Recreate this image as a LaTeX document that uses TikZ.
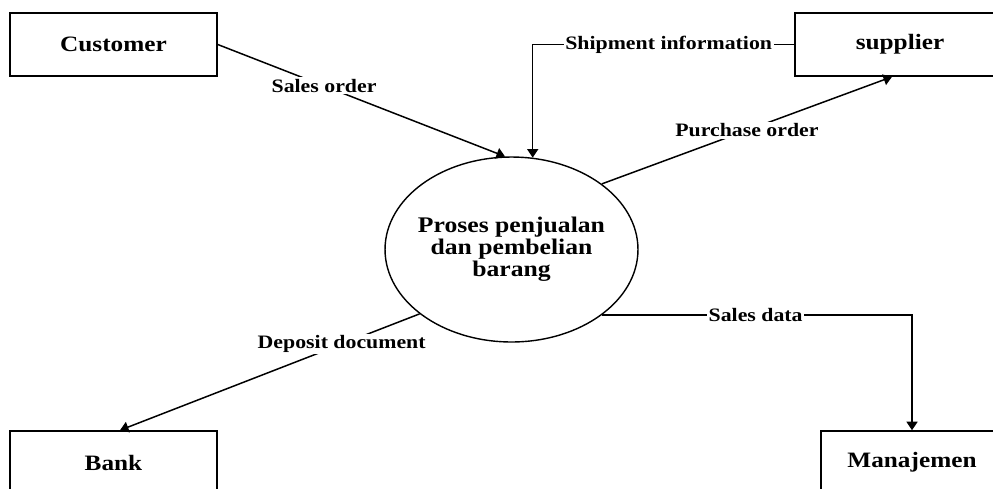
\documentclass[tikz,border=0pt]{standalone}
\usepackage{fontspec}
\setmainfont{Liberation Serif}[FakeStretch=1.15]
\usetikzlibrary{positioning, arrows.meta, shapes.geometric}

\tikzset{
  entity/.style={draw, line width=0.9pt, minimum height=1.26cm,
                 font=\fontsize{12.5}{14}\selectfont\bfseries},
  process/.style={draw, ellipse, line width=0.8pt, minimum width=5.06cm,
                  minimum height=3.7cm, inner xsep=-2.5pt, inner ysep=0pt,
                  align=center, font=\fontsize{12.7}{12.6}\selectfont\bfseries},
  flow/.style={line width=0.85pt, -{Triangle[length=0.17cm, width=0.22cm]}},
  flowlabel/.style={fill=white, inner sep=1pt,
                    font=\fontsize{10.8}{12}\selectfont\bfseries}
}

\begin{document}
\begin{tikzpicture}[x=0.02cm, y=-0.02cm]
  \useasboundingbox (0,0) rectangle (993,488);
  \clip (0,0) rectangle (993,488);

  % external entities
  \node[entity, minimum width=4.14cm] (customer) at (113.5,44.5) {Customer};
  \node[entity, minimum width=4.2cm] (supplier) at (900,44.5) {supplier};
  \node[entity, minimum width=4.14cm] (bank) at (113.5,462.5) {Bank};
  \node[entity, minimum width=3.64cm] (manajemen) at (912,462.5) {Manajemen};

  % process
  \node[process] (proses) at (511.5,249.5) {Proses penjualan\\dan pembelian\\barang};

  % data flows
  \draw[flow] (customer.east) -- (proses.94)
    node[flowlabel, pos=0.37] {Sales order};
  \draw[flow] (supplier.west) -| (proses.77)
    node[flowlabel, pos=0.24] {Shipment information};
  \draw[flow] (proses.36) -- ([xshift=-0.16cm]supplier.south)
    node[flowlabel, pos=0.5] {Purchase order};
  \draw[flow] (proses.215) -- ([xshift=0.13cm]bank.north)
    node[flowlabel, pos=0.26] {Deposit document};
  \draw[flow] (proses.-36) -| (manajemen.north)
    node[flowlabel, pos=0.248] {Sales data};
\end{tikzpicture}
\end{document}
